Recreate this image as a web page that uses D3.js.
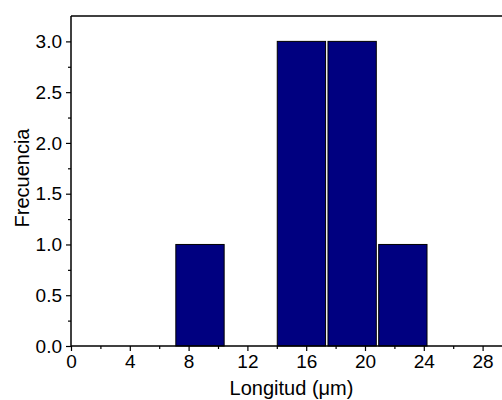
<!DOCTYPE html>
<html>
<head>
<meta charset="utf-8">
<script src="https://cdn.jsdelivr.net/npm/d3@7"></script>
<style>
  body { margin: 0; background: #fff; }
  svg { display: block; font-family: "Liberation Sans", Arial, sans-serif; }
</style>
</head>
<body>
<svg width="502" height="400"></svg>
<script>
// histogram bins (left edge, width) and counts
var binStarts = [7.05, 10.5, 13.95, 17.4, 20.85];
var binWidth = 3.45;
var counts = [1, 0, 3, 3, 1];

var xTicks = [0, 4, 8, 12, 16, 20, 24, 28];
var xMinor = [2, 6, 10, 14, 18, 22, 26];
var yTicks = [0, 0.5, 1.0, 1.5, 2.0, 2.5, 3.0];
var yMinor = [0.25, 0.75, 1.25, 1.75, 2.25, 2.75];

var plotLeft = 71, plotTop = 16, plotBottom = 346, plotRight = 512;

var x = d3.scaleLinear().domain([0, 30]).range([plotLeft, plotRight]);
var y = d3.scaleLinear().domain([0, 3.25]).range([plotBottom, plotTop]);

var svg = d3.select("svg");

// bars
var bars = binStarts.map(function (s, i) { return { x0: s, x1: s + binWidth, n: counts[i] }; })
    .filter(function (d) { return d.n > 0; });

svg.append("g").selectAll("rect")
    .data(bars)
    .enter().append("rect")
    .attr("x", function (d) { return x(d.x0) + 1.2; })
    .attr("y", function (d) { return y(d.n); })
    .attr("width", function (d) { return x(d.x1) - x(d.x0) - 2.4; })
    .attr("height", function (d) { return y(0) - y(d.n); })
    .attr("fill", "#000080")
    .attr("stroke", "#000")
    .attr("stroke-width", 1);

// frame lines (left, bottom, top)
svg.append("line").attr("x1", plotLeft).attr("x2", plotLeft).attr("y1", plotTop).attr("y2", plotBottom)
    .attr("stroke", "#000").attr("stroke-width", 1.5);
svg.append("line").attr("x1", plotLeft).attr("x2", plotRight).attr("y1", plotBottom).attr("y2", plotBottom)
    .attr("stroke", "#000").attr("stroke-width", 1.5);
svg.append("line").attr("x1", plotLeft).attr("x2", plotRight).attr("y1", plotTop).attr("y2", plotTop)
    .attr("stroke", "#000").attr("stroke-width", 1.5);

// x axis
var xAxis = svg.append("g").attr("transform", "translate(0," + plotBottom + ")")
    .call(d3.axisBottom(x).tickValues(xTicks).tickFormat(d3.format("d")).tickSize(5).tickPadding(4));
svg.append("g").attr("transform", "translate(0," + plotBottom + ")")
    .call(d3.axisBottom(x).tickValues(xMinor).tickFormat("").tickSize(3))
    .select(".domain").remove();
xAxis.select(".domain").remove();

// y axis
var yAxis = svg.append("g").attr("transform", "translate(" + plotLeft + ",0)")
    .call(d3.axisLeft(y).tickValues(yTicks).tickFormat(d3.format(".1f")).tickSize(5).tickPadding(4));
svg.append("g").attr("transform", "translate(" + plotLeft + ",0)")
    .call(d3.axisLeft(y).tickValues(yMinor).tickFormat("").tickSize(3))
    .select(".domain").remove();
yAxis.select(".domain").remove();

svg.selectAll(".tick line").attr("stroke", "#000").attr("stroke-width", 1.2);
svg.selectAll(".tick text").attr("fill", "#000").style("font-size", "19px")
    .style("font-family", "'Liberation Sans', Arial, sans-serif");

// titles
svg.append("text")
    .attr("x", (plotLeft + plotRight) / 2).attr("y", 395)
    .attr("text-anchor", "middle")
    .style("font-size", "20px")
    .text("Longitud (\u03bcm)");

svg.append("text")
    .attr("transform", "translate(29,178) rotate(-90)")
    .attr("text-anchor", "middle")
    .style("font-size", "20px")
    .text("Frecuencia");
</script>
</body>
</html>
